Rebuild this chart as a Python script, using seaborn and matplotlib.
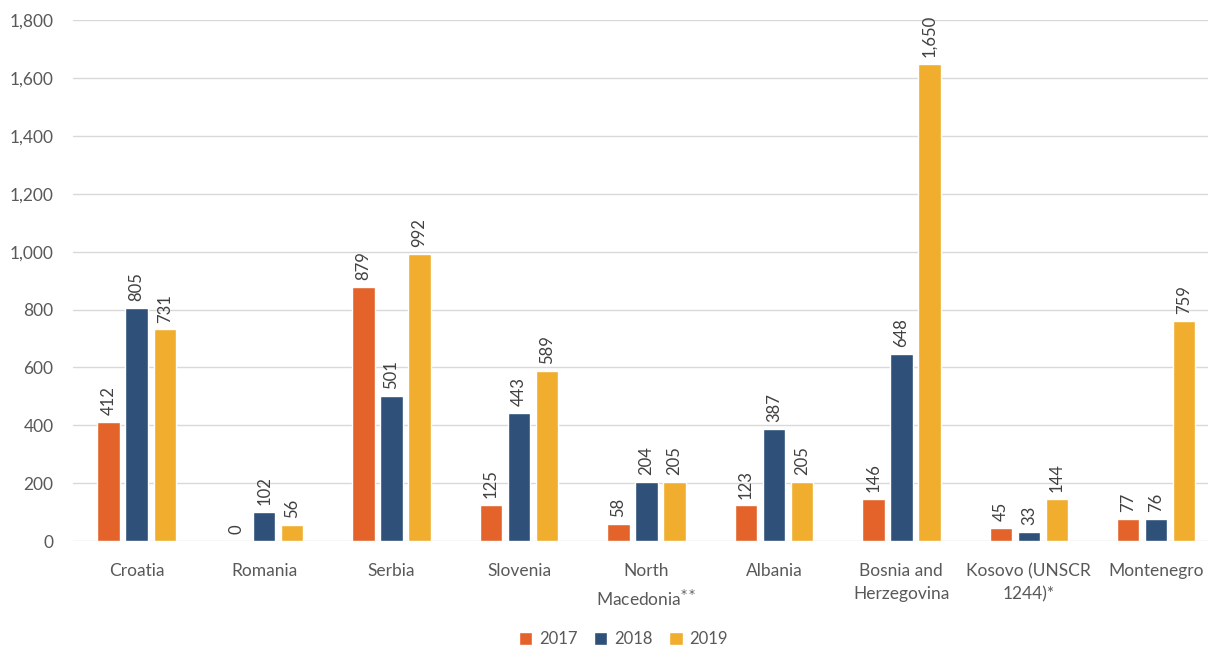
import matplotlib
matplotlib.use("Agg")
import matplotlib.pyplot as plt
import seaborn as sns
import pandas as pd
from matplotlib.ticker import FuncFormatter
from matplotlib.patches import Patch

categories = ["Croatia", "Romania", "Serbia", "Slovenia", "North\nMacedonia$^{**}$",
              "Albania", "Bosnia and\nHerzegovina", "Kosovo (UNSCR\n1244)*", "Montenegro"]
years = ["2017", "2018", "2019"]
v2017 = [412, 0, 879, 125, 58, 123, 146, 45, 77]
v2018 = [805, 102, 501, 443, 204, 387, 648, 33, 76]
v2019 = [731, 56, 992, 589, 205, 205, 1650, 144, 759]
colors = ["#E3632B", "#2E5079", "#F0AD2E"]

rows = []
for y, vals in zip(years, [v2017, v2018, v2019]):
    for c, v in zip(categories, vals):
        rows.append({"country": c, "year": y, "value": v})
df = pd.DataFrame(rows)

sns.set_theme(style="white")
plt.rcParams['font.family'] = ['Lato', 'DejaVu Sans']

fig = plt.figure(figsize=(12.08, 6.48), dpi=100)
ax = fig.add_axes([0.0604, 0.165, 0.9495, 0.804])

sns.barplot(data=df, x="country", y="value", hue="year", palette=colors,
            width=0.66, gap=0.2, ax=ax, legend=False, saturation=1)

for cont in ax.containers:
    labels = [f"{int(v.get_height()):,}" for v in cont]
    ax.bar_label(cont, labels=labels, rotation=90, padding=5, fontsize=12, color="#404040")

ax.set_ylim(0, 1800)
ax.set_yticks(range(0, 1801, 200))
ax.yaxis.set_major_formatter(FuncFormatter(lambda v, p: f"{int(v):,}"))
ax.set_xlim(-0.5, len(categories) - 0.5)
ax.grid(axis="y", color="#D9D9D9", linewidth=1)
ax.set_axisbelow(True)
for s in ax.spines.values():
    s.set_visible(False)
ax.set_xlabel("")
ax.set_ylabel("")
ax.tick_params(axis="both", length=0, labelsize=12.5, colors="#595959")
ax.tick_params(axis="y", pad=14)
ax.tick_params(axis="x", pad=16)
for t in ax.get_xticklabels():
    t.set_linespacing(1.55)

handles = [Patch(facecolor=c, label=y) for c, y in zip(colors, years)]
fig.legend(handles=handles, loc="lower center", bbox_to_anchor=(0.516, -0.022), ncol=3,
           frameon=False, fontsize=12, handlelength=0.8, handleheight=0.8,
           columnspacing=1.0, handletextpad=0.4, labelcolor="#595959")

fig.savefig("out.png", dpi=100)
